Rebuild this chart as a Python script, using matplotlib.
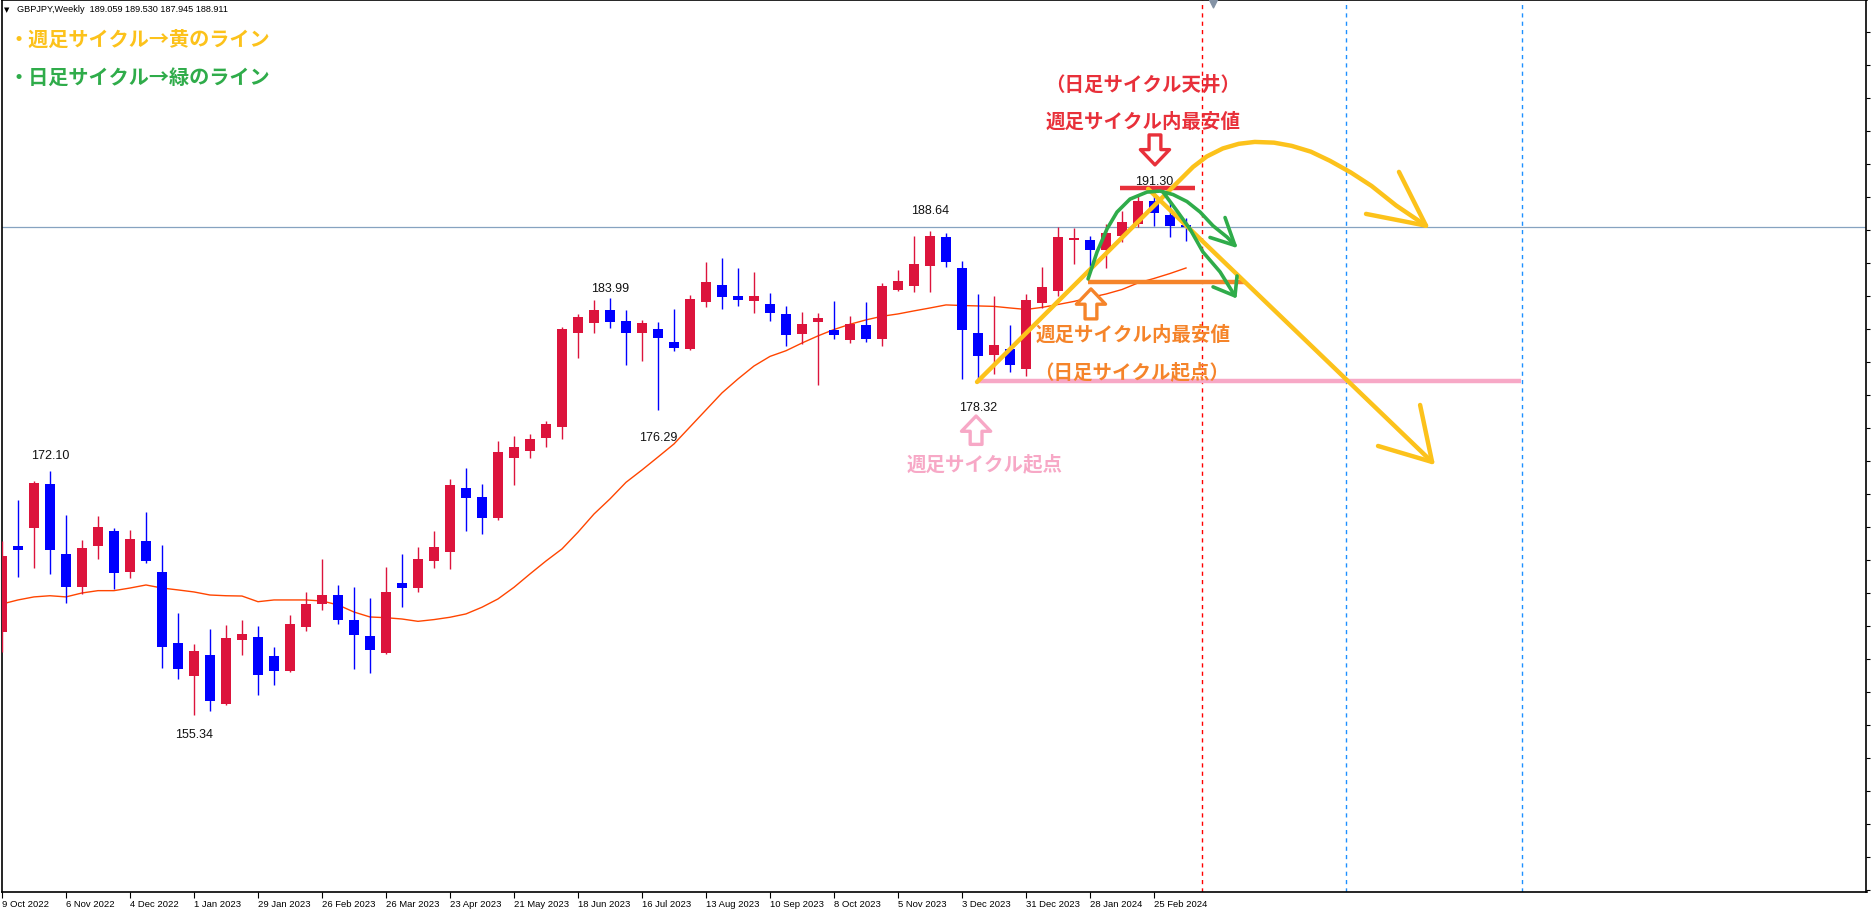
import numpy as np
import pandas as pd
import matplotlib
matplotlib.use('Agg')
import matplotlib.pyplot as plt

# GBPJPY weekly candles, 9 Oct 2022 .. 10 Mar 2024
dates = pd.date_range('2022-10-09', periods=75, freq='7D')
opens = [161.03, 166.98, 168.20, 171.25, 166.41, 164.16, 166.96, 167.99, 165.20, 167.31,
         165.17, 160.29, 158.02, 159.47, 156.08, 160.50, 160.68, 159.40, 158.37, 161.41,
         162.99, 163.59, 161.87, 160.77, 159.62, 164.42, 164.07, 165.93, 166.57, 170.95,
         170.33, 168.89, 173.00, 173.50, 174.39, 175.13, 181.63, 182.32, 183.19, 182.44,
         181.63, 181.89, 180.99, 180.53, 183.77, 184.91, 184.16, 183.84, 183.61, 182.92,
         181.56, 182.39, 181.84, 181.15, 182.16, 181.22, 184.57, 184.84, 186.24, 188.21,
         186.08, 181.61, 180.10, 180.51, 179.14, 183.68, 184.52, 188.01, 188.03, 187.34,
         188.30, 189.11, 190.71, 189.73, 189.059]
highs = [167.33, 170.13, 171.43, 172.10, 169.10, 167.38, 169.03, 168.20, 168.06, 169.32,
         167.03, 162.36, 160.22, 161.25, 161.53, 161.87, 161.46, 160.02, 162.22, 163.78,
         166.07, 164.28, 164.16, 163.39, 165.54, 166.41, 166.91, 167.99, 171.60, 172.30,
         171.23, 174.20, 174.50, 174.67, 175.56, 182.03, 182.92, 183.88, 183.99, 183.19,
         182.51, 182.37, 183.26, 184.23, 186.50, 186.77, 186.08, 185.81, 184.36, 183.47,
         183.06, 182.99, 183.81, 182.78, 183.74, 185.05, 185.95, 188.30, 188.64, 188.48,
         186.56, 184.29, 184.16, 182.16, 184.29, 186.13, 188.90, 188.86, 188.30, 189.11,
         190.02, 191.06, 191.30, 190.71, 189.530]
lows = [159.69, 164.85, 165.45, 165.04, 163.04, 163.64, 166.09, 164.01, 164.76, 165.79,
        158.57, 157.82, 155.34, 155.64, 156.03, 159.47, 156.72, 157.40, 158.32, 161.14,
        162.56, 161.60, 158.50, 158.23, 159.53, 162.79, 163.82, 165.45, 165.38, 167.99,
        167.79, 168.75, 171.18, 173.00, 173.80, 174.32, 179.91, 181.63, 181.98, 179.43,
        179.71, 176.29, 180.40, 180.45, 183.42, 183.26, 183.47, 182.99, 182.44, 180.72,
        180.88, 178.06, 181.22, 180.95, 181.01, 180.74, 184.50, 184.45, 184.45, 186.17,
        178.45, 178.32, 178.79, 178.93, 178.68, 183.30, 184.18, 186.36, 185.90, 186.08,
        187.90, 188.88, 188.99, 188.19, 187.945]
closes = [166.30, 166.71, 171.32, 166.69, 164.16, 166.83, 168.27, 165.11, 167.44, 165.95,
          160.04, 158.50, 159.74, 156.30, 160.64, 160.91, 158.09, 158.37, 161.60, 162.97,
          163.59, 161.87, 160.84, 159.81, 163.80, 164.07, 166.07, 166.89, 171.16, 170.26,
          168.89, 173.43, 173.80, 174.30, 175.35, 181.89, 182.71, 183.19, 182.39, 181.63,
          182.30, 181.29, 180.60, 183.95, 185.12, 184.11, 183.90, 184.16, 183.01, 181.50,
          182.23, 182.65, 181.50, 182.23, 181.22, 184.84, 185.19, 186.36, 188.30, 186.52,
          181.84, 180.05, 180.81, 179.43, 183.88, 184.78, 188.21, 188.15, 187.34, 188.49,
          189.23, 190.71, 189.87, 188.99, 188.911]
# moving average line as drawn on the chart
ma = [162.97, 163.25, 163.46, 163.54, 163.46, 163.73, 163.89, 163.89, 164.07, 164.28,
      164.07, 163.94, 163.80, 163.59, 163.54, 163.52, 163.13, 163.25, 163.25, 163.25,
      163.18, 162.91, 162.42, 162.08, 162.03, 161.94, 161.78, 161.90, 162.06, 162.29,
      162.75, 163.32, 164.12, 165.04, 165.93, 166.76, 167.91, 169.16, 170.20, 171.34,
      172.19, 173.08, 173.98, 175.15, 176.32, 177.49, 178.45, 179.34, 180.00, 180.39,
      180.92, 181.41, 181.85, 182.21, 182.51, 182.76, 182.92, 183.13, 183.33, 183.54,
      183.50, 183.47, 183.44, 183.33, 183.23, 183.37, 183.57, 183.78, 184.05, 184.29,
      184.60, 185.05, 185.36, 185.70, 186.08]

# swing high / low labels
hl_bars = [3, 12, 38, 41, 58, 61, 72]
hl_vals = [172.10, 155.34, 183.99, 176.29, 188.64, 178.32, 191.30]
hl_offsets = [16, -19, 10, -27, 21, -26, 11]  # pixels from the bar extreme

# hand-drawn cycle analysis (bar index, price)
weekly_low = 178.32      # 週足サイクル起点
daily_low = 185.10       # 日足サイクル起点
daily_top = 191.56       # 日足サイクル天井
future_lines = [75, 84, 95]

YELLOW = '#fcc21b'
GREEN = '#2fac4a'
RED = '#e8303a'
ORANGE = '#f5842a'
PINK = '#f7a8c6'
JP = 'Noto Sans CJK JP'

W, H = 1871, 912
fig = plt.figure(figsize=(W / 100, H / 100), dpi=100)
ax = fig.add_axes([1.5 / W, 19.5 / H, 1865 / W, 891.5 / H])

x = np.arange(len(opens))
o, hi, lo, c = (np.array(a) for a in (opens, highs, lows, closes))
cols = np.where(c >= o, '#dc143c', '#0000ff')

ax.vlines(x, lo, hi, colors=cols, linewidth=1.0, zorder=3)
ax.bar(x, np.maximum(np.abs(c - o), 0.07), bottom=np.minimum(o, c), width=0.67,
       color=cols, linewidth=0, zorder=4)
ax.plot(x, ma, color='#ff4500', lw=1.0, zorder=2)

# current price line
ax.axhline(closes[-1], color='#86a3c0', lw=0.9, zorder=1)

for b, v, off in zip(hl_bars, hl_vals, hl_offsets):
    ax.annotate(f'{v:.2f}', (b, v), xytext=(0, off),
                textcoords='offset pixels', ha='center', va='center',
                fontsize=9, family='Liberation Sans', color='#111111', zorder=6)

# future vertical markers
ax.axvline(future_lines[0], color='#ff0000', lw=1.0, ls=(0, (3, 3)), zorder=1)
for fx in future_lines[1:]:
    ax.axvline(fx, color='#1e90ff', lw=1.0, ls=(0, (3, 3)), zorder=1)
ax.scatter([75.7], [204.3], marker='v', s=40, color='#8493a5', zorder=7, clip_on=False)

# horizontal levels
ax.plot([60.94, 94.94], [weekly_low, weekly_low], color=PINK, lw=3.2, zorder=5,
        solid_capstyle='butt')
ax.plot([67.88, 77.69], [daily_low, daily_low], color=ORANGE, lw=3.2, zorder=5,
        solid_capstyle='butt')
ax.plot([69.88, 74.56], [daily_top, daily_top], color=RED, lw=3.2, zorder=5,
        solid_capstyle='butt')

# weekly cycle (yellow)
yl_x = [60.94, 74.44, 75.3, 76.3, 77.3, 78.3, 79.5, 80.6, 81.8, 83.0, 84.3, 85.6, 87.13, 89.0]
yl_y = [178.24, 193.03, 193.75, 194.30, 194.62, 194.75, 194.70, 194.48, 194.08, 193.45,
        192.65, 191.72, 190.38, 188.99]
ax.plot(yl_x, yl_y, color=YELLOW, lw=3.2, zorder=8, solid_capstyle='round',
        solid_joinstyle='round')
ax.plot([87.31, 89.0, 85.25], [192.69, 188.99, 189.80], color=YELLOW, lw=3.2, zorder=8,
        solid_capstyle='round', solid_joinstyle='round')
ax.plot([71.63, 89.38], [191.52, 172.74], color=YELLOW, lw=3.2, zorder=8,
        solid_capstyle='round')
ax.plot([88.63, 89.38, 86.0], [176.66, 172.74, 173.84], color=YELLOW, lw=3.2, zorder=8,
        solid_capstyle='round', solid_joinstyle='round')

# daily cycle (green)
g1x = [67.88, 68.44, 69.06, 69.69, 70.5, 71.56, 72.38, 73.19, 74.06, 74.88, 75.69, 76.56, 77.06]
g1y = [185.33, 187.18, 188.76, 189.93, 190.82, 191.30, 191.37, 191.13, 190.65, 189.93,
       188.98, 188.21, 187.63]
ax.plot(g1x, g1y, color=GREEN, lw=2.6, zorder=9, solid_capstyle='round',
        solid_joinstyle='round')
ax.plot([76.44, 77.06, 75.5], [189.55, 187.63, 188.18], color=GREEN, lw=2.6, zorder=9,
        solid_capstyle='round', solid_joinstyle='round')
g2x = [72.56, 73.44, 74.25, 75.06, 76.13, 77.06]
g2y = [191.31, 190.0, 188.76, 187.18, 185.81, 184.16]
ax.plot(g2x, g2y, color=GREEN, lw=2.6, zorder=9, solid_capstyle='round',
        solid_joinstyle='round')
ax.plot([77.19, 77.06, 75.69], [185.53, 184.16, 184.78], color=GREEN, lw=2.6, zorder=9,
        solid_capstyle='round', solid_joinstyle='round')


def hollow_arrow(xp, tail, tip, color):
    ax.annotate('', xy=(xp, tip), xytext=(xp, tail),
                arrowprops=dict(arrowstyle='simple,head_length=1.1,head_width=2.1,tail_width=0.85',
                                fc='white', ec=color, lw=2.4, shrinkA=0, shrinkB=0,
                                mutation_scale=10), zorder=10)


hollow_arrow(72.06, 195.23, 193.17, RED)
hollow_arrow(68.06, 182.58, 184.64, ORANGE)
hollow_arrow(60.88, 173.95, 175.90, PINK)

tk = dict(family=JP, fontweight='bold', fontsize=14, ha='center', va='center', zorder=11)
ax.text(71.31, 198.72, '（日足サイクル天井）', color=RED, **tk)
ax.text(71.31, 196.18, '週足サイクル内最安値', color=RED, **tk)
ax.text(70.69, 181.55, '週足サイクル内最安値', color=ORANGE, **tk)
ax.text(70.63, 179.00, '（日足サイクル起点）', color=ORANGE, **tk)
ax.text(61.44, 172.62, '週足サイクル起点', color=PINK, **tk)

fig.text(9 / W, 1 - 39.5 / H, '・週足サイクル→黄のライン', color=YELLOW, family=JP,
         fontweight='bold', fontsize=14.5, va='center', ha='left')
fig.text(9 / W, 1 - 77 / H, '・日足サイクル→緑のライン', color=GREEN, family=JP,
         fontweight='bold', fontsize=14.5, va='center', ha='left')
fig.text(4 / W, 1 - 10 / H, '▼', fontsize=5, va='center', ha='left', color='black')
fig.text(17 / W, 1 - 10 / H, 'GBPJPY,Weekly  189.059 189.530 187.945 188.911',
         fontsize=6.6, family='Liberation Sans', va='center', ha='left', color='black')

ax.set_xlim(-0.03, 116.53)
ax.set_ylim(143.20, 204.51)

ax.set_xticks(x[::4])
ax.set_xticklabels([f'{d.day} {d:%b %Y}' for d in dates[::4]], fontsize=6.8,
                   family='Liberation Sans', ha='left')
ax.tick_params(axis='x', direction='out', length=4, width=0.8, pad=1.5)
ax.yaxis.tick_right()
ax.set_yticks(np.arange(202.31, 143.2, -2.27))
ax.set_yticklabels([])
ax.tick_params(axis='y', direction='out', length=3, width=0.8)
for s in ax.spines.values():
    s.set_color('black')
    s.set_linewidth(1.2)

fig.savefig('out.png', dpi=100)
